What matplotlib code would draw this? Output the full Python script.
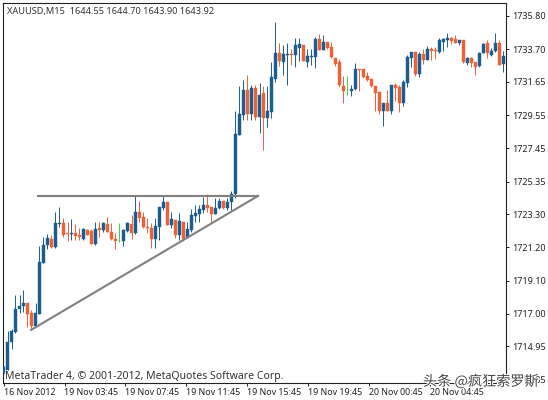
""" XAUUSD M15 candlestick chart with ascending triangle """
import matplotlib
matplotlib.use("Agg")
import matplotlib.pyplot as plt
import matplotlib.patheffects as pe
from matplotlib.transforms import ScaledTranslation
import numpy as np

opens = [1713.27, 1713.46, 1715.23, 1715.86, 1717.31, 1717.50, 1717.69, 1717.06, 1716.24, 1717.00,
         1720.22, 1721.35, 1721.73, 1721.22, 1722.68, 1722.74, 1722.11, 1722.05, 1722.11, 1721.98,
         1721.73, 1722.30, 1722.23, 1721.41, 1722.42, 1722.30, 1722.68, 1722.17, 1721.73, 1721.60,
         1721.60, 1722.23, 1722.68, 1722.11, 1723.43, 1723.12, 1722.49, 1722.42, 1721.73, 1722.49,
         1723.68, 1724.06, 1722.61, 1722.93, 1721.98, 1722.80, 1721.86, 1722.30, 1723.18, 1723.31,
         1723.56, 1723.87, 1723.75, 1723.31, 1723.68, 1724.13, 1723.68, 1724.06, 1724.57, 1728.29,
         1729.55, 1731.13, 1729.62, 1731.26, 1729.43, 1730.94, 1729.36, 1729.74, 1731.83, 1733.47,
         1732.90, 1733.34, 1733.40, 1733.34, 1733.78, 1733.97, 1732.90, 1733.21, 1733.21, 1734.35,
         1733.66, 1734.16, 1733.84, 1733.15, 1732.90, 1731.38, 1731.13, 1731.07, 1731.19, 1732.46,
         1732.46, 1732.01, 1731.83, 1731.38, 1731.00, 1729.81, 1730.31, 1729.81, 1731.45, 1731.32,
         1730.31, 1731.57, 1733.15, 1733.53, 1732.14, 1733.40, 1733.02, 1733.72, 1733.66, 1733.53,
         1734.16, 1734.29, 1734.41, 1734.35, 1734.10, 1734.29, 1732.83, 1733.15, 1732.90, 1732.65,
         1733.47, 1734.10, 1733.34, 1733.59, 1734.10, 1732.77]
highs = [1713.72, 1715.92, 1716.05, 1718.20, 1718.20, 1718.51, 1717.69, 1717.25, 1717.69, 1721.29,
         1721.86, 1722.05, 1721.98, 1723.43, 1723.75, 1723.05, 1722.80, 1722.99, 1722.68, 1722.42,
         1722.42, 1722.36, 1722.36, 1722.80, 1722.80, 1722.80, 1723.12, 1722.74, 1722.11, 1722.74,
         1722.36, 1722.80, 1723.24, 1724.44, 1724.13, 1723.43, 1723.05, 1722.74, 1723.05, 1723.75,
         1724.44, 1724.06, 1723.43, 1722.93, 1723.37, 1722.80, 1722.80, 1723.62, 1723.87, 1723.87,
         1724.38, 1724.57, 1723.75, 1724.32, 1724.32, 1724.13, 1724.32, 1724.76, 1729.81, 1731.38,
         1731.76, 1732.08, 1731.45, 1731.45, 1731.57, 1731.38, 1731.38, 1732.90, 1735.42, 1734.10,
         1733.97, 1734.10, 1733.72, 1734.41, 1734.41, 1733.97, 1733.72, 1733.72, 1734.48, 1734.66,
         1734.60, 1734.16, 1734.16, 1733.15, 1733.09, 1732.01, 1732.01, 1731.45, 1732.83, 1732.46,
         1732.46, 1732.27, 1731.83, 1731.38, 1731.00, 1730.31, 1731.13, 1731.45, 1731.57, 1731.45,
         1731.76, 1733.34, 1733.53, 1733.53, 1733.53, 1733.72, 1733.91, 1733.84, 1733.84, 1734.41,
         1734.41, 1734.73, 1734.48, 1734.60, 1734.29, 1734.29, 1733.21, 1733.21, 1732.90, 1733.53,
         1734.10, 1734.29, 1733.78, 1734.73, 1734.29, 1733.59]
lows = [1713.27, 1713.46, 1714.79, 1715.80, 1717.06, 1717.12, 1716.18, 1715.99, 1716.18, 1717.00,
        1720.22, 1721.10, 1721.16, 1721.16, 1722.49, 1721.86, 1721.60, 1721.67, 1721.67, 1721.67,
        1721.67, 1721.98, 1721.41, 1721.35, 1721.86, 1722.17, 1722.17, 1721.67, 1721.10, 1721.54,
        1721.29, 1722.17, 1721.73, 1722.05, 1722.80, 1722.42, 1722.11, 1721.16, 1721.16, 1721.67,
        1723.56, 1722.61, 1722.42, 1721.79, 1721.67, 1721.60, 1721.79, 1722.17, 1722.80, 1722.80,
        1723.37, 1723.43, 1722.74, 1723.31, 1723.62, 1723.62, 1723.56, 1723.56, 1724.32, 1728.29,
        1729.24, 1729.24, 1729.24, 1729.24, 1728.42, 1727.35, 1728.80, 1729.36, 1731.64, 1732.65,
        1732.08, 1731.45, 1732.71, 1732.58, 1732.96, 1732.96, 1732.58, 1732.71, 1732.52, 1733.66,
        1733.66, 1733.72, 1733.15, 1732.65, 1731.32, 1730.31, 1730.82, 1730.75, 1731.13, 1731.07,
        1731.89, 1731.70, 1731.32, 1729.81, 1729.62, 1728.86, 1729.81, 1729.62, 1730.44, 1729.74,
        1730.12, 1731.32, 1732.58, 1732.01, 1731.95, 1732.77, 1733.02, 1733.02, 1733.09, 1733.47,
        1733.59, 1733.84, 1734.03, 1734.10, 1733.97, 1732.83, 1732.71, 1732.58, 1732.08, 1732.58,
        1733.47, 1733.15, 1733.28, 1733.53, 1732.71, 1732.27]
closes = [1713.66, 1715.23, 1715.92, 1717.31, 1717.50, 1717.69, 1717.00, 1716.24, 1717.06, 1720.28,
          1721.35, 1721.79, 1721.22, 1722.74, 1722.74, 1721.98, 1722.05, 1722.11, 1721.92, 1721.86,
          1722.36, 1721.98, 1721.41, 1722.36, 1722.30, 1722.74, 1722.17, 1721.73, 1721.60, 1721.60,
          1722.30, 1722.74, 1722.11, 1723.43, 1723.05, 1722.49, 1722.42, 1721.73, 1722.55, 1723.75,
          1724.06, 1722.61, 1722.99, 1721.98, 1722.86, 1721.73, 1722.36, 1723.24, 1723.37, 1723.62,
          1723.87, 1723.68, 1723.31, 1723.68, 1724.13, 1723.68, 1724.06, 1724.57, 1728.36, 1729.62,
          1731.13, 1729.62, 1731.26, 1729.43, 1730.82, 1729.36, 1729.81, 1731.95, 1733.47, 1732.96,
          1733.40, 1733.40, 1733.34, 1733.97, 1734.03, 1732.96, 1733.28, 1733.28, 1734.35, 1733.66,
          1734.16, 1733.78, 1733.21, 1732.77, 1731.45, 1731.07, 1731.13, 1731.19, 1732.46, 1732.39,
          1731.95, 1731.76, 1731.38, 1730.94, 1729.81, 1730.31, 1729.81, 1731.45, 1731.26, 1730.31,
          1731.64, 1733.21, 1733.53, 1732.14, 1733.40, 1733.02, 1733.72, 1733.59, 1733.59, 1734.29,
          1734.35, 1734.41, 1734.22, 1734.10, 1734.29, 1732.90, 1733.15, 1732.83, 1732.58, 1733.47,
          1734.03, 1733.47, 1733.59, 1734.10, 1732.71, 1733.28]

y_ticks = [1735.80, 1733.70, 1731.65, 1729.55, 1727.45, 1725.35,
           1723.30, 1721.20, 1719.10, 1717.00, 1714.95, 1712.85]
x_labels = ["16 Nov 2012", "19 Nov 03:45", "19 Nov 07:45", "19 Nov 11:45",
            "19 Nov 15:45", "19 Nov 19:45", "20 Nov 00:45", "20 Nov 04:45"]

# triangle drawn on the chart: bar index and price
resistance_x = [8.6, 63.6]
resistance_y = [1724.44, 1724.44]
support_x = [6.9, 63.6]
support_y = [1715.99, 1724.44]

BLUE = "#1c5c8e"
ORANGE = "#e9623a"
GREEN = "#3fd24a"
FONT = "Noto Sans"
W, H = 548, 400

fig = plt.figure(figsize=(W / 100, H / 100), dpi=100)
ax = fig.add_axes([2.5 / W, (H - 382.5) / H, 503 / W, 380 / H])

o = np.array(opens)
c = np.array(closes)
x = np.arange(len(o))
colors = [GREEN if a == b else (BLUE if b > a else ORANGE) for a, b in zip(o, c)]

ax.vlines(x, lows, highs, colors=colors, linewidth=0.7, zorder=2)
ax.bar(x, np.abs(c - o), bottom=np.minimum(o, c), width=0.7, color=colors,
       edgecolor=colors, linewidth=0.3, zorder=3)

ax.plot(resistance_x, resistance_y, color="#808080", linewidth=1.5, zorder=4)
ax.plot(support_x, support_y, color="#808080", linewidth=1.5, zorder=4)

ax.set_xlim(-0.25, 125.5)
ax.set_ylim(1712.67, 1736.65)

# one label every 61 px on screen
tick_pos = [i * 15.25 for i in range(len(x_labels))]
ax.set_xticks(tick_pos)
ax.set_xticklabels(x_labels, ha="left", fontname=FONT, fontsize=6.4, color="#222222")
shift = ScaledTranslation(-2 / 100, 0, fig.dpi_scale_trans)
for label in ax.get_xticklabels():
    label.set_transform(label.get_transform() + shift)
ax.set_yticks(y_ticks)
ax.set_yticklabels([f"{v:.2f}" for v in y_ticks], fontname=FONT, fontsize=6.5, color="#222222")
ax.yaxis.tick_right()
ax.tick_params(axis="x", length=2.5, width=0.7, pad=1.5, color="#222222")
ax.tick_params(axis="y", length=2.5, width=0.7, pad=2.0, color="#222222")
for s in ax.spines.values():
    s.set_linewidth(0.8)
    s.set_color("#222222")

ax.text(2.5 / 503, (382.5 - 376) / 380, "MetaTrader 4, © 2001-2012, MetaQuotes Software Corp.",
        transform=ax.transAxes, fontname=FONT, fontsize=7.55, color="#333333", va="center", zorder=5)
ax.text(4.5 / 503, (382.5 - 11) / 380, "XAUUSD,M15  1644.55 1644.70 1643.90 1643.92",
        transform=ax.transAxes, fontname=FONT, fontsize=6.6, color="#333333", va="center", zorder=5)

fig.text(423 / W, (H - 381.5) / H, "头条 @疯狂索罗斯", family=["Noto Sans CJK SC", "DejaVu Sans"],
         fontsize=10.2, color="#444444", va="center", zorder=10,
         path_effects=[pe.withStroke(linewidth=1.5, foreground="#ffffff")])

fig.savefig("out.png", dpi=100)
